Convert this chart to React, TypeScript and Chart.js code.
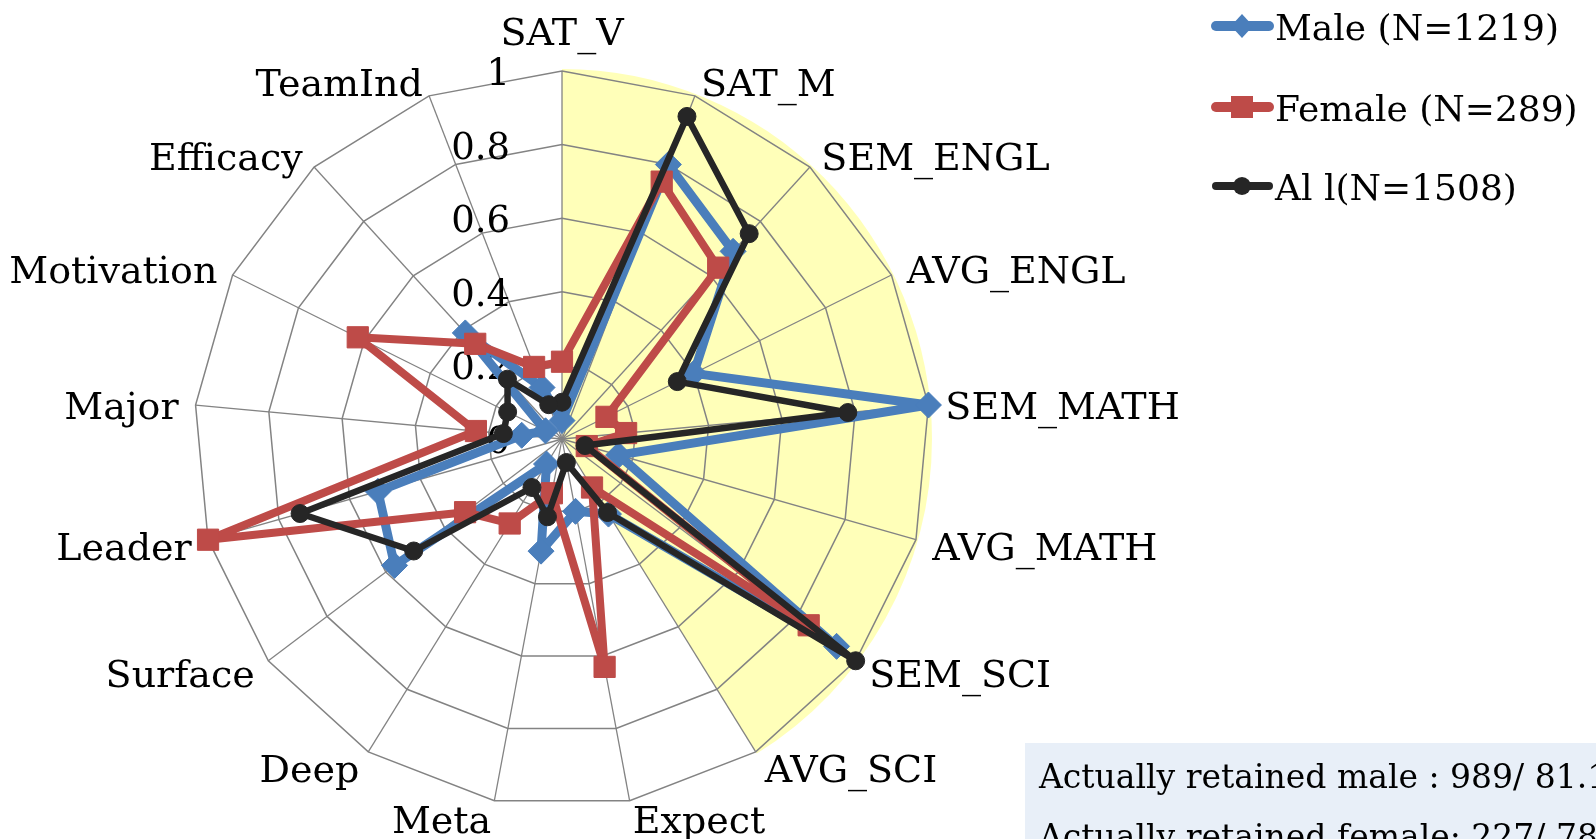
import { useEffect, useRef } from 'react';
import { Chart, registerables } from 'chart.js';

Chart.register(...registerables);

const categories = ['SAT_V', 'SAT_M', 'SEM_ENGL', 'AVG_ENGL', 'SEM_MATH', 'AVG_MATH', 'SEM_SCI', 'AVG_SCI', 'Expect', 'Meta', 'Deep', 'Surface', 'Leader', 'Major', 'Motivation', 'Efficacy', 'TeamInd'];
const maleValues = [0.05, 0.8, 0.69, 0.4, 1.0, 0.16, 0.935, 0.24, 0.2, 0.31, 0.08, 0.57, 0.52, 0.11, 0.05, 0.39, 0.15];
const femaleValues = [0.21, 0.75, 0.63, 0.135, 0.175, 0.07, 0.84, 0.155, 0.63, 0.15, 0.27, 0.33, 1.0, 0.235, 0.62, 0.35, 0.21];
const allValues = [0.1, 0.94, 0.755, 0.35, 0.78, 0.065, 1.0, 0.235, 0.065, 0.215, 0.155, 0.505, 0.74, 0.16, 0.165, 0.22, 0.1];
const seriesNames = ['Male (N=1219)', 'Female (N=289)', 'Al l(N=1508)'];
const tickValues = [0, 0.2, 0.4, 0.6, 0.8, 1];
const tickLabels = ['0', '0.2', '0.4', '0.6', '0.8', '1'];
const highlightRange = ['SAT_V', 'AVG_SCI'];
const noteLines = ['Actually retained male : 989/ 81.1%', 'Actually retained female: 227/ 78.5%'];

const FONT = '"DejaVu Serif", "Liberation Serif", serif';
const BLUE = '#4A7EBB';
const RED = '#BE4B48';
const BLACK = '#262626';

const decorPlugin = {
  id: 'decor',
  beforeDraw(chart: any) {
    const s = chart.scales.r;
    const ctx = chart.ctx;
    const i0 = categories.indexOf(highlightRange[0]);
    const i1 = categories.indexOf(highlightRange[1]);
    const a0 = s.getIndexAngle(i0) - Math.PI / 2;
    const a1 = s.getIndexAngle(i1) - Math.PI / 2;
    ctx.save();
    ctx.fillStyle = '#FFFFB9';
    ctx.beginPath();
    ctx.moveTo(s.xCenter, s.yCenter);
    ctx.arc(s.xCenter, s.yCenter, s.drawingArea + 2, a0, a1);
    ctx.closePath();
    ctx.fill();
    ctx.restore();
  },
  beforeDatasetsDraw(chart: any) {
    const s = chart.scales.r;
    const ctx = chart.ctx;
    ctx.save();
    ctx.fillStyle = '#000';
    ctx.textBaseline = 'alphabetic';
    ctx.textAlign = 'right';
    ctx.font = `37px ${FONT}`;
    tickValues.forEach((v, k) => {
      const y = s.yCenter - s.getDistanceFromCenterForValue(v);
      ctx.fillText(tickLabels[k], s.xCenter - 52, y + 14);
    });
    ctx.font = `38px ${FONT}`;
    categories.forEach((c, i) => {
      const p = s.getPointPosition(i, s.drawingArea + 17);
      const dx = p.x - s.xCenter;
      const centered = Math.abs(dx) < 2;
      ctx.textAlign = centered ? 'center' : dx > 0 ? 'left' : 'right';
      const cy = centered ? p.y - 23 : p.y + 2;
      ctx.fillText(c, p.x, cy + 14);
    });
    ctx.restore();
  },
  afterDraw(chart: any) {
    const ctx = chart.ctx;
    ctx.save();
    const ys = [26, 107, 186];
    const colors = [BLUE, RED, BLACK];
    const widths = [10, 10, 8];
    ys.forEach((y, k) => {
      ctx.strokeStyle = colors[k];
      ctx.lineWidth = widths[k];
      ctx.lineCap = 'round';
      ctx.beginPath();
      ctx.moveTo(1216, y);
      ctx.lineTo(1269, y);
      ctx.stroke();
      ctx.fillStyle = colors[k];
      ctx.beginPath();
      if (k === 0) {
        ctx.moveTo(1242, y - 12);
        ctx.lineTo(1253, y);
        ctx.lineTo(1242, y + 12);
        ctx.lineTo(1231, y);
        ctx.closePath();
      } else if (k === 1) {
        ctx.rect(1231, y - 11, 22, 22);
      } else {
        ctx.arc(1242, y, 9, 0, Math.PI * 2);
      }
      ctx.fill();
      ctx.fillStyle = '#000';
      ctx.font = `36px ${FONT}`;
      ctx.textAlign = 'left';
      ctx.textBaseline = 'alphabetic';
      ctx.fillText(seriesNames[k], 1275, y + 14);
    });
    ctx.fillStyle = '#E8EFF8';
    ctx.fillRect(1025, 743, 600, 200);
    ctx.fillStyle = '#000';
    ctx.font = `33px ${FONT}`;
    ctx.fillText(noteLines[0], 1039, 788);
    ctx.fillText(noteLines[1], 1039, 848);
    ctx.restore();
  },
};

export default function App() {
  const ref = useRef<HTMLCanvasElement | null>(null);
  useEffect(() => {
    if (!ref.current) return;
    const chart = new Chart(ref.current, {
      type: 'radar',
      data: {
        labels: categories,
        datasets: [
          {
            label: seriesNames[0],
            data: maleValues,
            borderColor: BLUE,
            backgroundColor: BLUE,
            pointBackgroundColor: BLUE,
            pointBorderColor: BLUE,
            borderWidth: 9,
            pointStyle: 'rectRot',
            pointRadius: 13,
            pointBorderWidth: 1,
            fill: false,
            order: 3,
            clip: false,
            borderJoinStyle: 'round',
          },
          {
            label: seriesNames[1],
            data: femaleValues,
            borderColor: RED,
            backgroundColor: RED,
            pointBackgroundColor: RED,
            pointBorderColor: RED,
            borderWidth: 8,
            pointStyle: 'rect',
            pointRadius: 15,
            pointBorderWidth: 1,
            fill: false,
            order: 2,
            clip: false,
            borderJoinStyle: 'round',
          },
          {
            label: seriesNames[2],
            data: allValues,
            borderColor: BLACK,
            backgroundColor: BLACK,
            pointBackgroundColor: BLACK,
            pointBorderColor: BLACK,
            borderWidth: 6.5,
            pointStyle: 'circle',
            pointRadius: 9,
            pointBorderWidth: 1,
            fill: false,
            order: 1,
            clip: false,
            borderJoinStyle: 'round',
          },
        ],
      } as any,
      options: {
        animation: false,
        responsive: false,
        devicePixelRatio: 1,
        layout: { padding: { left: 194, top: 71, right: 665, bottom: 32 } },
        plugins: { legend: { display: false }, tooltip: { enabled: false } },
        elements: { line: { tension: 0 } },
        scales: {
          r: {
            min: 0,
            max: 1,
            ticks: { display: false, stepSize: 0.2 },
            pointLabels: { display: false },
            grid: { color: '#838383', lineWidth: 1.5 },
            angleLines: { color: '#838383', lineWidth: 1.3 },
          },
        },
      } as any,
      plugins: [decorPlugin],
    });
    return () => chart.destroy();
  }, []);
  return (
    <div style={{ position: 'fixed', left: 0, top: 0, width: 1596, height: 839, overflow: 'hidden', background: '#fff' }}>
      <canvas ref={ref} width={1596} height={839} style={{ width: 1596, height: 839, display: 'block' }} />
    </div>
  );
}
